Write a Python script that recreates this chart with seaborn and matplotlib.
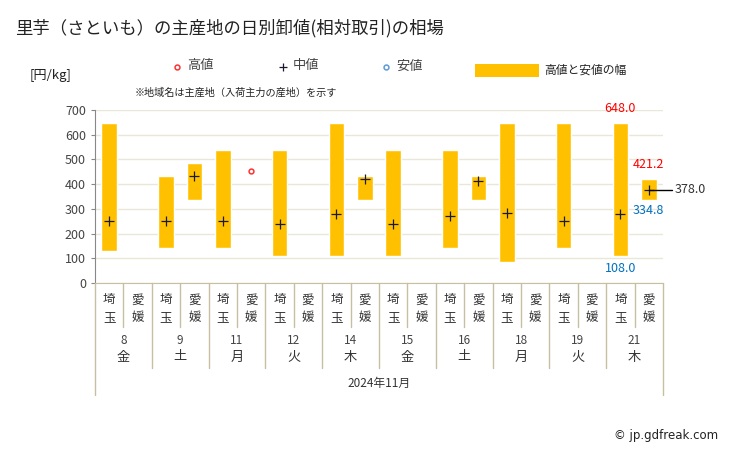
import numpy as np
import pandas as pd
import matplotlib
matplotlib.use("Agg")
import matplotlib.pyplot as plt
from matplotlib.lines import Line2D
from matplotlib.patches import Rectangle
import seaborn as sns

sns.set_style("white")
plt.rcParams['font.family'] = ['Noto Sans CJK JP', 'DejaVu Sans']

# データ
days = ['8', '9', '11', '12', '14', '15', '16', '18', '19', '21']
weekdays = ['金', '土', '月', '火', '木', '金', '土', '月', '火', '木']
regions = ['埼玉', '愛媛']
high = [648, np.nan, 432, 484, 540, 455, 540, np.nan, 648, 432,
        540, np.nan, 540, 432, 648, np.nan, 648, np.nan, 648, 421.2]
low = [130, np.nan, 140, 335, 140, np.nan, 108, np.nan, 108, 335,
       108, np.nan, 140, 335, 86, np.nan, 140, np.nan, 108, 334.8]
mid = [250, np.nan, 250, 432, 250, np.nan, 238, np.nan, 281, 420,
       238, np.nan, 271, 412, 282, np.nan, 250, np.nan, 281, 378.0]

df = pd.DataFrame({'pos': np.arange(20), 'high': high, 'low': low, 'mid': mid})

W, H = 729, 450
fig = plt.figure(figsize=(W / 100, H / 100), dpi=100)
L, R, T, B = 95, 663, 110, 283
ax = fig.add_axes([L / W, 1 - B / H, (R - L) / W, (B - T) / H])

def fx(px):
    return px / W

def fy(py):
    return 1 - py / H

gold = '#FFC000'
line_c = '#C8BFA0'

rng = df.dropna(subset=['low'])
ax.bar(rng['pos'], rng['high'] - rng['low'], bottom=rng['low'], width=0.55,
       color=gold, zorder=2)
sns.scatterplot(data=df.dropna(subset=['mid']), x='pos', y='mid', marker='+', s=50,
                color='#1a1a2e', linewidth=0.9, zorder=4, ax=ax, legend=False)
only_high = df[df['low'].isna() & df['high'].notna()]
ax.scatter(only_high['pos'], only_high['high'], s=12, facecolor='white',
           edgecolor='#FF3030', linewidth=1.1, zorder=4)

ax.set_xlim(-0.5, 19.5)
ax.set_ylim(0, 700)
ax.set_yticks(range(0, 701, 100))
ax.tick_params(axis='y', labelsize=9, colors='#888888', length=3, width=0.8, direction='out', left=True)
for lab in ax.get_yticklabels():
    lab.set_color('#444444')
ax.set_xticks([])
ax.set_xlabel('')
ax.set_ylabel('')
ax.grid(axis='y', color='#EAE6D8', linewidth=1, zorder=0)
ax.set_axisbelow(True)
for s in ['top', 'right']:
    ax.spines[s].set_visible(False)
ax.spines['left'].set_color('#888888')
ax.spines['bottom'].set_color(line_c)

# 注記
i18 = 18
ax.annotate('648.0', (i18, 648), xytext=(0, 6), textcoords='offset points',
            ha='center', va='bottom', color='#FF0000', fontsize=9)
ax.annotate('108.0', (i18, 108), xytext=(0, -4), textcoords='offset points',
            ha='center', va='top', color='#0070C0', fontsize=9)
ax.annotate('421.2', (19, 421.2), xytext=(0, 6), textcoords='offset points',
            ha='center', va='bottom', color='#FF0000', fontsize=9)
ax.annotate('334.8', (19, 334.8), xytext=(0, -3), textcoords='offset points',
            ha='center', va='top', color='#0070C0', fontsize=9)
ax.plot([19, 19.8], [378, 378], color='black', linewidth=1, clip_on=False, zorder=5)
ax.annotate('378.0', (19.8, 378), xytext=(2, 0), textcoords='offset points',
            ha='left', va='center', color='#333333', fontsize=9, annotation_clip=False)

# 軸下の表
col_w = (R - L) / 20
for k in range(21):
    xp = L + k * col_w
    if k in (0, 20):
        y2 = 395
    elif k % 2 == 0:
        y2 = 368
    else:
        y2 = 327
    fig.add_artist(Line2D([fx(xp), fx(xp)], [fy(B), fy(y2)], color=line_c, linewidth=1))
for k in range(20):
    xc = L + (k + 0.5) * col_w
    name = regions[k % 2]
    fig.text(fx(xc), fy(300), name[0], ha='center', va='center', fontsize=9, color='#333333')
    fig.text(fx(xc), fy(318), name[1], ha='center', va='center', fontsize=9, color='#333333')
for d in range(10):
    xc = L + (2 * d + 1) * col_w
    fig.text(fx(xc), fy(341), days[d], ha='center', va='center', fontsize=8.5, color='#444444')
    fig.text(fx(xc), fy(357), weekdays[d], ha='center', va='center', fontsize=9.5, color='#333333')
fig.text(fx((L + R) / 2), fy(383), '2024年11月', ha='center', va='center', fontsize=8.5, color='#333333')

# タイトル・凡例
fig.text(fx(15), fy(28), '里芋（さといも）の主産地の日別卸値(相対取引)の相場',
         ha='left', va='center', fontsize=12.5, color='#222222')
fig.text(fx(30), fy(75), '[円/kg]', ha='left', va='center', fontsize=9.5, color='#222222')
fig.text(fx(135), fy(93), '※地域名は主産地（入荷主力の産地）を示す', ha='left', va='center',
         fontsize=7.3, color='#222222')

fig.add_artist(Line2D([fx(177)], [fy(67)], marker='o', markersize=3.5, markerfacecolor='white',
                      markeredgecolor='#FF3030', markeredgewidth=1.1, linestyle='none'))
fig.text(fx(187), fy(66), '高値', ha='left', va='center', fontsize=9.5, color='#444444')
fig.add_artist(Line2D([fx(283)], [fy(67)], marker='+', markersize=6, markeredgecolor='#1a1a2e',
                      markeredgewidth=0.9, linestyle='none'))
fig.text(fx(293), fy(66), '中値', ha='left', va='center', fontsize=9.5, color='#444444')
fig.add_artist(Line2D([fx(386)], [fy(67)], marker='o', markersize=3.5, markerfacecolor='white',
                      markeredgecolor='#5B9BD5', markeredgewidth=1.1, linestyle='none'))
fig.text(fx(396), fy(66), '安値', ha='left', va='center', fontsize=9.5, color='#444444')
fig.add_artist(Rectangle((fx(475), fy(77)), fx(539) - fx(475), fy(64) - fy(77),
                         facecolor=gold, edgecolor='none', transform=fig.transFigure))
fig.text(fx(544), fy(70), '高値と安値の幅', ha='left', va='center', fontsize=8.5, color='#222222')

fig.text(fx(718), fy(436), '© jp.gdfreak.com', ha='right', va='center', fontsize=8.5,
         color='#222222', family=['DejaVu Sans'])

fig.savefig('out.png', dpi=100)
